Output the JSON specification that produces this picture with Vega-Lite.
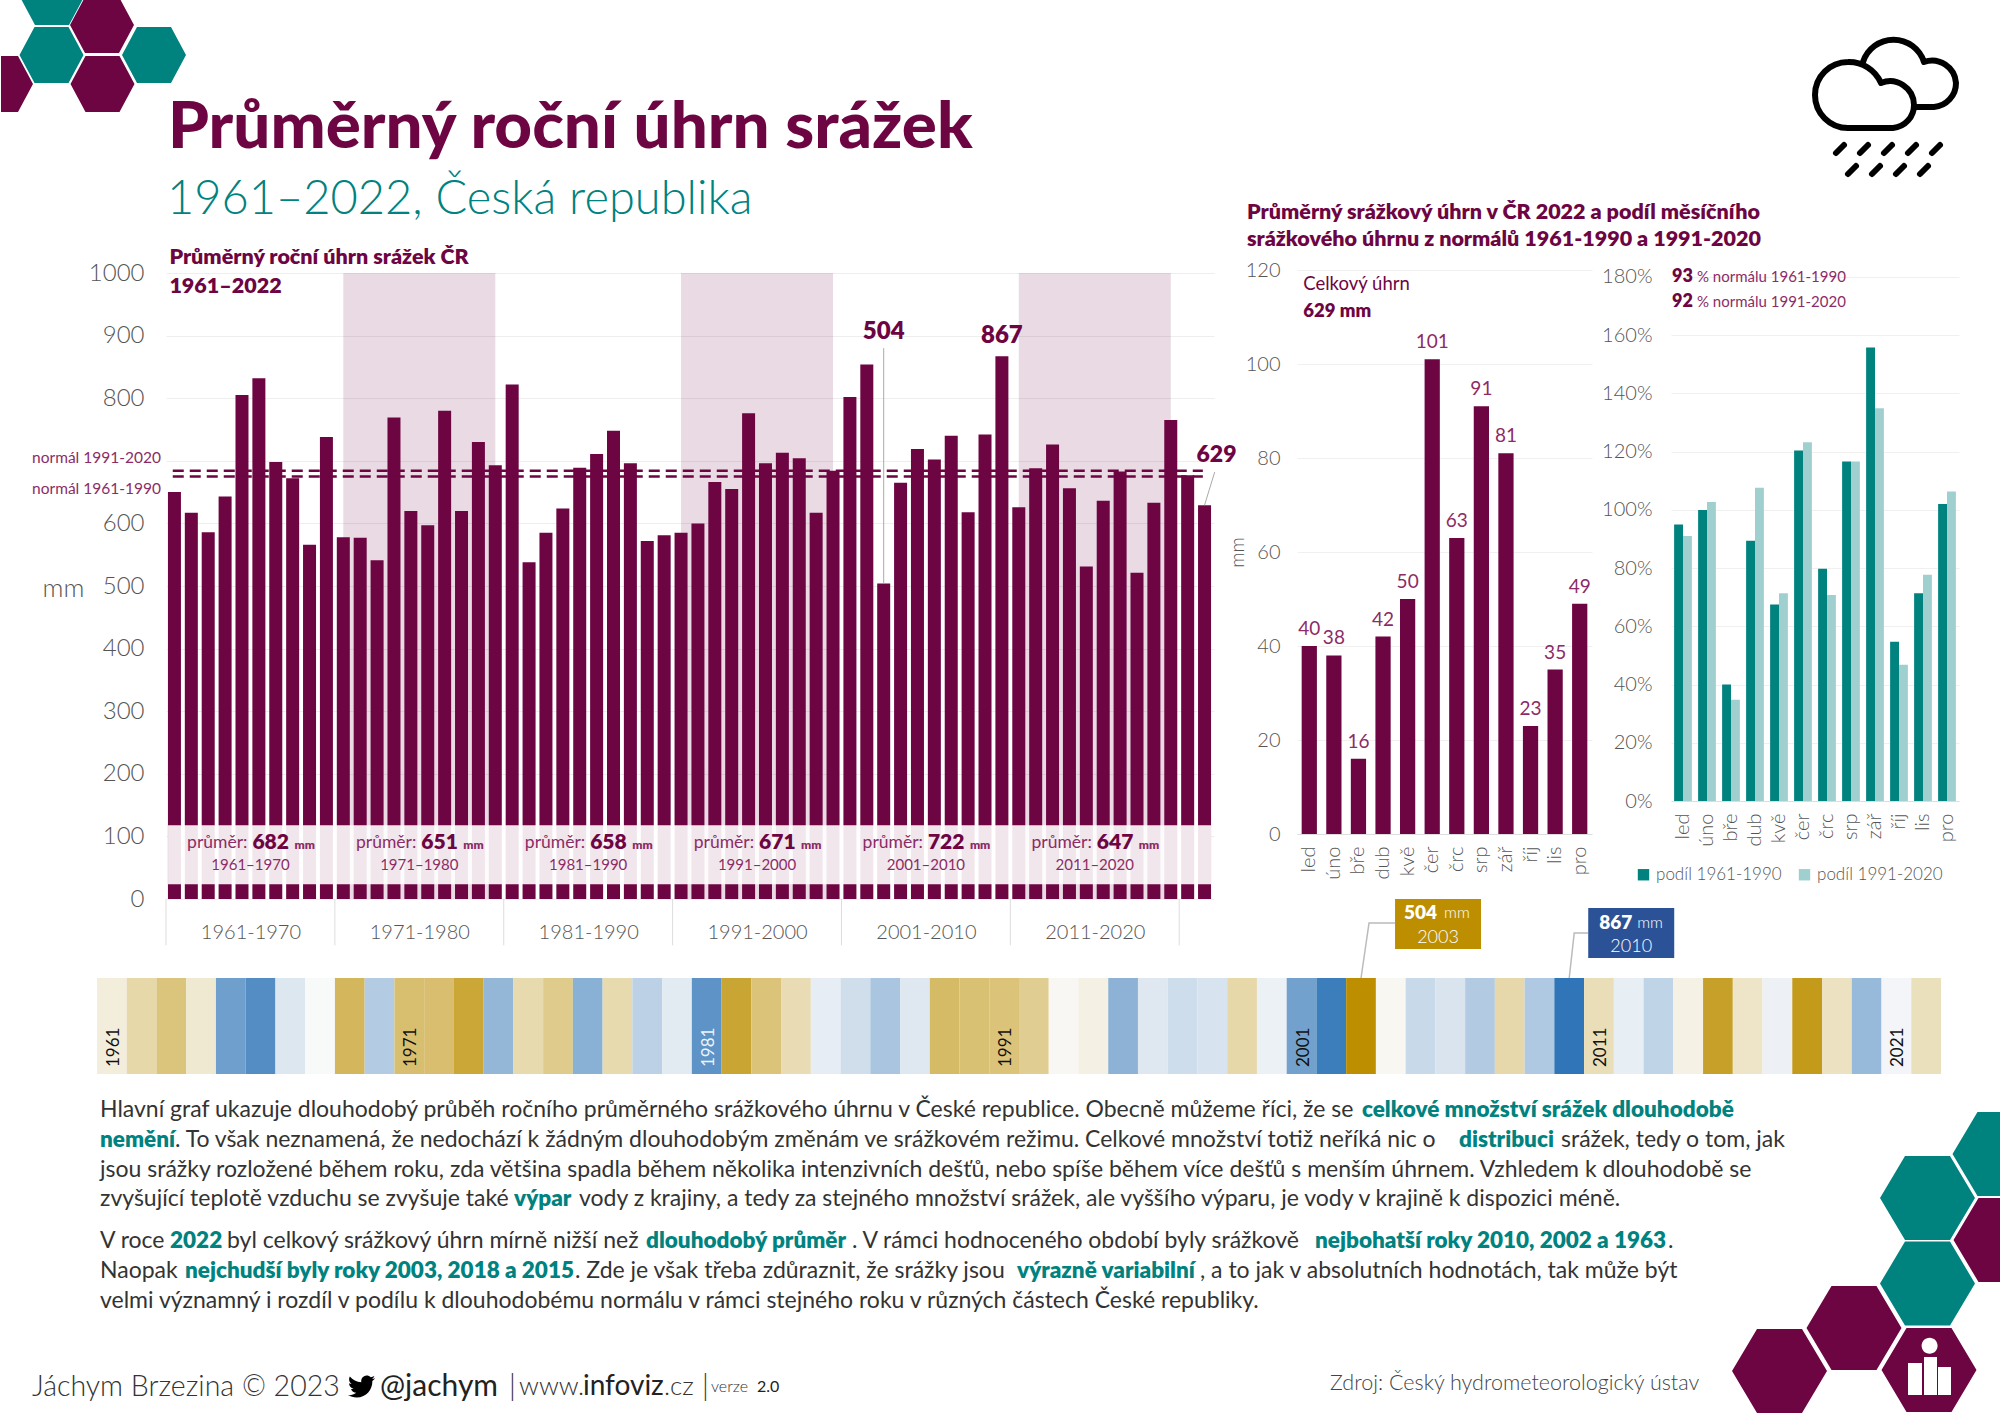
{
"$schema":"https://vega.github.io/schema/vega-lite/v6.json",
"padding":0,"background":"white","spacing":0,"bounds":"flush",
"config":{"view":{"stroke":null},"font":"Lato","concat":{"spacing":0},"text":{"font":"Lato"}},
"datasets":{
"years":[{"year":1961,"mm":650},{"year":1962,"mm":617},{"year":1963,"mm":586},{"year":1964,"mm":643},{"year":1965,"mm":805},{"year":1966,"mm":832},{"year":1967,"mm":698},{"year":1968,"mm":672},{"year":1969,"mm":566},{"year":1970,"mm":738},{"year":1971,"mm":578},{"year":1972,"mm":577},{"year":1973,"mm":541},{"year":1974,"mm":769},{"year":1975,"mm":620},{"year":1976,"mm":597},{"year":1977,"mm":780},{"year":1978,"mm":620},{"year":1979,"mm":730},{"year":1980,"mm":693},{"year":1981,"mm":822},{"year":1982,"mm":538},{"year":1983,"mm":585},{"year":1984,"mm":624},{"year":1985,"mm":689},{"year":1986,"mm":711},{"year":1987,"mm":748},{"year":1988,"mm":696},{"year":1989,"mm":572},{"year":1990,"mm":581},{"year":1991,"mm":585},{"year":1992,"mm":600},{"year":1993,"mm":666},{"year":1994,"mm":655},{"year":1995,"mm":776},{"year":1996,"mm":696},{"year":1997,"mm":713},{"year":1998,"mm":704},{"year":1999,"mm":617},{"year":2000,"mm":684},{"year":2001,"mm":802},{"year":2002,"mm":854},{"year":2003,"mm":504},{"year":2004,"mm":665},{"year":2005,"mm":719},{"year":2006,"mm":702},{"year":2007,"mm":740},{"year":2008,"mm":618},{"year":2009,"mm":742},{"year":2010,"mm":867},{"year":2011,"mm":626},{"year":2012,"mm":688},{"year":2013,"mm":726},{"year":2014,"mm":656},{"year":2015,"mm":531},{"year":2016,"mm":636},{"year":2017,"mm":683},{"year":2018,"mm":521},{"year":2019,"mm":633},{"year":2020,"mm":765},{"year":2021,"mm":677},{"year":2022,"mm":629}],
"decades":[{"mid":1965.5,"mean":682,"label":"1961–1970"},{"mid":1975.5,"mean":651,"label":"1971–1980"},{"mid":1985.5,"mean":658,"label":"1981–1990"},{"mid":1995.5,"mean":671,"label":"1991–2000"},{"mid":2005.5,"mean":722,"label":"2001–2010"},{"mid":2015.5,"mean":647,"label":"2011–2020"}],
"months":[{"m":"led","mm":40},{"m":"úno","mm":38},{"m":"bře","mm":16},{"m":"dub","mm":42},{"m":"kvě","mm":50},{"m":"čer","mm":101},{"m":"črc","mm":63},{"m":"srp","mm":91},{"m":"zář","mm":81},{"m":"říj","mm":23},{"m":"lis","mm":35},{"m":"pro","mm":49}],
"shares":[{"m":"led","s":"podíl 1961-1990","v":0.95},{"m":"led","s":"podíl 1991-2020","v":0.91},{"m":"úno","s":"podíl 1961-1990","v":1.0},{"m":"úno","s":"podíl 1991-2020","v":1.027},{"m":"bře","s":"podíl 1961-1990","v":0.4},{"m":"bře","s":"podíl 1991-2020","v":0.348},{"m":"dub","s":"podíl 1961-1990","v":0.894},{"m":"dub","s":"podíl 1991-2020","v":1.076},{"m":"kvě","s":"podíl 1961-1990","v":0.675},{"m":"kvě","s":"podíl 1991-2020","v":0.714},{"m":"čer","s":"podíl 1961-1990","v":1.204},{"m":"čer","s":"podíl 1991-2020","v":1.232},{"m":"črc","s":"podíl 1961-1990","v":0.798},{"m":"črc","s":"podíl 1991-2020","v":0.708},{"m":"srp","s":"podíl 1961-1990","v":1.166},{"m":"srp","s":"podíl 1991-2020","v":1.166},{"m":"zář","s":"podíl 1961-1990","v":1.558},{"m":"zář","s":"podíl 1991-2020","v":1.349},{"m":"říj","s":"podíl 1961-1990","v":0.547},{"m":"říj","s":"podíl 1991-2020","v":0.468},{"m":"lis","s":"podíl 1961-1990","v":0.714},{"m":"lis","s":"podíl 1991-2020","v":0.777},{"m":"pro","s":"podíl 1961-1990","v":1.02},{"m":"pro","s":"podíl 1991-2020","v":1.063}],
"prose":[
{"run":1,"line":1,"kind":"plain","t":"Hlavní graf ukazuje dlouhodobý průběh ročního průměrného srážkového úhrnu v České republice. Obecně můžeme říci, že se"},
{"run":2,"line":1,"kind":"key","t":"celkové množství srážek dlouhodobě"},
{"run":3,"line":2,"kind":"key","t":"nemění"},
{"run":4,"line":2,"kind":"plain","t":". To však neznamená, že nedochází k žádným dlouhodobým změnám ve srážkovém režimu. Celkové množství totiž neříká nic o"},
{"run":5,"line":2,"kind":"key","t":"distribuci"},
{"run":6,"line":2,"kind":"plain","t":"srážek, tedy o tom, jak"},
{"run":7,"line":3,"kind":"plain","t":"jsou srážky rozložené během roku, zda většina spadla během několika intenzivních dešťů, nebo spíše během více dešťů s menším úhrnem. Vzhledem k dlouhodobě se"},
{"run":8,"line":4,"kind":"plain","t":"zvyšující teplotě vzduchu se zvyšuje také"},
{"run":9,"line":4,"kind":"key","t":"výpar"},
{"run":10,"line":4,"kind":"plain","t":"vody z krajiny, a tedy za stejného množství srážek, ale vyššího výparu, je vody v krajině k dispozici méně."},
{"run":11,"line":5,"kind":"plain","t":"V roce"},
{"run":12,"line":5,"kind":"key","t":"2022"},
{"run":13,"line":5,"kind":"plain","t":"byl celkový srážkový úhrn mírně nižší než"},
{"run":14,"line":5,"kind":"key","t":"dlouhodobý průměr"},
{"run":15,"line":5,"kind":"plain","t":". V rámci hodnoceného období byly srážkově"},
{"run":16,"line":5,"kind":"key","t":"nejbohatší roky 2010, 2002 a 1963"},
{"run":17,"line":5,"kind":"plain","t":"."},
{"run":18,"line":6,"kind":"plain","t":"Naopak"},
{"run":19,"line":6,"kind":"key","t":"nejchudší byly roky 2003, 2018 a 2015"},
{"run":20,"line":6,"kind":"plain","t":". Zde je však třeba zdůraznit, že srážky jsou"},
{"run":21,"line":6,"kind":"key","t":"výrazně variabilní"},
{"run":22,"line":6,"kind":"plain","t":", a to jak v absolutních hodnotách, tak může být"},
{"run":23,"line":7,"kind":"plain","t":"velmi významný i rozdíl v podílu k dlouhodobému normálu v rámci stejného roku v různých částech České republiky."},
{"run":24,"line":8,"kind":"credit","t":"Jáchym Brzezina © 2023"},
{"run":25,"line":8,"kind":"handle","t":"@jachym"},
{"run":26,"line":8,"kind":"credit","t":"|"},
{"run":27,"line":8,"kind":"site","t":"www."},
{"run":28,"line":8,"kind":"siteName","t":"infoviz"},
{"run":29,"line":8,"kind":"site","t":".cz"},
{"run":30,"line":8,"kind":"credit","t":"|"},
{"run":31,"line":8,"kind":"small","t":"verze"},
{"run":32,"line":8,"kind":"smallStrong","t":"2.0"},
{"run":33,"line":9,"kind":"source","t":"Zdroj: Český hydrometeorologický ústav"}
]
},
"vconcat":[
{"width":2000,"height":270,"data":{"values":[{}]},
 "encoding":{"x":{"datum":0,"type":"quantitative","scale":{"domain":[0,2000],"range":[0,2000]},"axis":null},"y":{"datum":0,"type":"quantitative","scale":{"domain":[0,270],"range":[0,270]},"axis":null}},
 "layer":[
 {"mark":{"type":"point","clip":true,"filled":true,"opacity":1,"size":4,"color":"#00827f","strokeWidth":0,"shape":"M19 -3L34 -31L68 -31L83 -3L68 25L34 25ZM18.5 55L33.5 27L67.5 27L82.5 55L67.5 83L33.5 83ZM121 55L136 27L170 27L185 55L170 83L136 83Z"}},
 {"mark":{"type":"point","clip":true,"filled":true,"opacity":1,"size":4,"color":"#6e0543","strokeWidth":0,"shape":"M69 25L84 -3L118 -3L133 25L118 53L84 53ZM69.5 84L84.5 56L118.5 56L133.5 84L118.5 112L84.5 112ZM-32 84L-17 56L17 56L32 84L17 112L-17 112Z"}},
 {"mark":{"type":"point","filled":false,"opacity":1,"size":4,"stroke":"#000000","strokeWidth":6,"strokeCap":"round","strokeJoin":"round","shape":"M1847 128A33 33 0 0 1 1847 62A35 35 0 0 1 1880 83A24 24 0 0 1 1913 105A23 23 0 0 1 1892 128ZM1862 62A32 32 0 0 1 1923 62A24 24 0 0 1 1955 83A24 24 0 0 1 1933 107L1915 107M1835 153L1843 145M1859 153L1867 145M1883 153L1891 145M1907 153L1915 145M1931 153L1939 145M1847 174L1855 166M1871 174L1879 166M1895 174L1903 166M1919 174L1927 166"}},
 {"mark":{"type":"text","align":"left","baseline":"middle","fontSize":65.5,"fontWeight":900,"color":"#6e0543"},"encoding":{"x":{"datum":167,"type":"quantitative"},"y":{"datum":128,"type":"quantitative"},"text":{"value":"Průměrný roční úhrn srážek"}}},
 {"mark":{"type":"text","align":"left","baseline":"middle","fontSize":47,"fontWeight":300,"color":"#00827f"},"encoding":{"x":{"datum":166,"type":"quantitative"},"y":{"datum":200,"type":"quantitative"},"text":{"value":"1961–2022, Česká republika"}}}
 ]},
{"hconcat":[
 {"width":165,"height":629,"data":{"values":[{}]},"mark":{"type":"rule","opacity":0},"encoding":{}},
 {"width":1048,"height":629,"data":{"name":"years"},
  "layer":[
  {"data":{"values":[{"from":1971,"to":1980},{"from":1991,"to":2000},{"from":2011,"to":2020}]},
   "mark":{"type":"rect","color":"#6e0543","opacity":0.15},
   "encoding":{
    "x":{"field":"from","type":"quantitative","scale":{"domain":[1960.5,2022.56],"nice":false,"zero":false,"padding":0},
      "axis":{"title":null,"values":[1965.5,1975.5,1985.5,1995.5,2005.5,2015.5],"labelExpr":"format(datum.value-4.5,'d')+'-'+format(datum.value+4.5,'d')","tickSize":0,"domain":false,"grid":false,"labelPadding":23,"labelFontSize":20,"labelFontWeight":300,"labelColor":"#555555","labelOverlap":false,"labelFlush":false}},
    "x2":{"field":"to"},
    "y":{"datum":0,"type":"quantitative","scale":{"domain":[0,1004.8],"nice":false},
      "axis":{"title":"mm","titleAngle":0,"titleX":-103,"titleY":331,"titleFontSize":26,"titleFontWeight":300,"titleColor":"#555555","titleAlign":"center","values":[0,100,200,300,400,500,600,700,800,900,1000],"labelExpr":"datum.value==700?'':datum.label","format":"d","labelFontSize":24,"labelFontWeight":300,"labelColor":"#555555","labelPadding":22,"tickSize":0,"domain":false,"grid":true,"gridColor":"#eeeeee"}},
    "y2":{"datum":1000}}},
  {"mark":{"type":"bar","orient":"vertical","width":13,"color":"#6e0543"},"encoding":{"x":{"field":"year","type":"quantitative"},"y":{"field":"mm","type":"quantitative","stack":null}}},
  {"data":{"values":[{}]},"mark":{"type":"rect","color":"#ffffff","opacity":0.9},"encoding":{"x":{"datum":1960.62,"type":"quantitative"},"x2":{"datum":2022.4},"y":{"datum":23.4,"type":"quantitative"},"y2":{"datum":118}}},
  {"data":{"values":[{"b":1960.5},{"b":1970.5},{"b":1980.5},{"b":1990.5},{"b":2000.5},{"b":2010.5},{"b":2020.5}]},"mark":{"type":"rule","color":"#dddddd"},"encoding":{"x":{"field":"b","type":"quantitative"},"y":{"datum":0,"type":"quantitative"},"y2":{"datum":-74}}},
  {"data":{"values":[{"n":684},{"n":675}]},"mark":{"type":"rule","color":"#6e0543","strokeWidth":2.5,"strokeDash":[11,6]},"encoding":{"x":{"datum":1960.9,"type":"quantitative"},"x2":{"datum":2021.9},"y":{"field":"n","type":"quantitative"}}},
  {"data":{"values":[{}]},"mark":{"type":"text","align":"right","fontSize":15.5,"color":"#8c2c66"},"encoding":{"x":{"datum":1960.2,"type":"quantitative"},"y":{"datum":704,"type":"quantitative"},"text":{"value":"normál 1991-2020"}}},
  {"data":{"values":[{}]},"mark":{"type":"text","align":"right","fontSize":15.5,"color":"#8c2c66"},"encoding":{"x":{"datum":1960.2,"type":"quantitative"},"y":{"datum":655,"type":"quantitative"},"text":{"value":"normál 1961-1990"}}},
  {"data":{"values":[{}]},"mark":{"type":"text","align":"left","fontSize":21.5,"fontWeight":800,"color":"#6e0543"},"encoding":{"x":{"datum":1960.7,"type":"quantitative"},"y":{"datum":1024,"type":"quantitative"},"text":{"value":"Průměrný roční úhrn srážek ČR"}}},
  {"data":{"values":[{}]},"mark":{"type":"text","align":"left","fontSize":21.5,"fontWeight":800,"color":"#6e0543"},"encoding":{"x":{"datum":1960.7,"type":"quantitative"},"y":{"datum":977,"type":"quantitative"},"text":{"value":"1961–2022"}}},
  {"data":{"name":"decades"},"mark":{"type":"text","align":"right","dx":-3,"fontSize":17.5,"color":"#8c2c66"},"encoding":{"x":{"field":"mid","type":"quantitative"},"y":{"datum":89,"type":"quantitative"},"text":{"value":"průměr:"}}},
  {"data":{"name":"decades"},"mark":{"type":"text","align":"left","dx":2,"fontSize":21,"fontWeight":800,"color":"#6e0543"},"encoding":{"x":{"field":"mid","type":"quantitative"},"y":{"datum":89,"type":"quantitative"},"text":{"field":"mean"}}},
  {"data":{"name":"decades"},"mark":{"type":"text","align":"left","dx":44,"fontSize":12,"fontWeight":800,"color":"#8c2c66"},"encoding":{"x":{"field":"mid","type":"quantitative"},"y":{"datum":87,"type":"quantitative"},"text":{"value":"mm"}}},
  {"data":{"name":"decades"},"mark":{"type":"text","align":"center","fontSize":15,"color":"#8c2c66"},"encoding":{"x":{"field":"mid","type":"quantitative"},"y":{"datum":55,"type":"quantitative"},"text":{"field":"label"}}},
  {"data":{"values":[{}]},"mark":{"type":"rule","color":"#aaaaaa"},"encoding":{"x":{"datum":2003,"type":"quantitative"},"y":{"datum":880,"type":"quantitative"},"y2":{"datum":504}}},
  {"data":{"values":[{}]},"mark":{"type":"rule","color":"#aaaaaa"},"encoding":{"x":{"datum":2022.6,"type":"quantitative"},"x2":{"datum":2022},"y":{"datum":682,"type":"quantitative"},"y2":{"datum":629}}},
  {"transform":[{"filter":"datum.year==2003"}],"mark":{"type":"text","fontSize":24,"fontWeight":800,"color":"#6e0543"},"encoding":{"x":{"field":"year","type":"quantitative"},"y":{"datum":905,"type":"quantitative"},"text":{"field":"mm"}}},
  {"transform":[{"filter":"datum.year==2010"}],"mark":{"type":"text","fontSize":24,"fontWeight":800,"color":"#6e0543"},"encoding":{"x":{"field":"year","type":"quantitative"},"y":{"datum":900,"type":"quantitative"},"text":{"field":"mm"}}},
  {"transform":[{"filter":"datum.year==2022"}],"mark":{"type":"text","fontSize":23,"fontWeight":800,"color":"#6e0543"},"encoding":{"x":{"field":"year","type":"quantitative"},"y":{"datum":710,"type":"quantitative"},"text":{"field":"mm"},"xOffset":{"value":12}}}
  ]},
 {"width":83,"height":629,"data":{"values":[{}]},"mark":{"type":"rule","opacity":0},"encoding":{}},
 {"width":295,"height":564,"data":{"name":"months"},
  "title":{"text":["Průměrný srážkový úhrn v ČR 2022 a podíl měsíčního","srážkového úhrnu z normálů 1961-1990 a 1991-2020"],"anchor":"start","frame":"group","dx":-50,"offset":10,"fontSize":21.5,"fontWeight":800,"color":"#6e0543","lineHeight":27},
  "encoding":{"x":{"field":"m","type":"nominal","sort":null,"scale":{"paddingInner":0.38,"paddingOuter":0.19},"axis":{"title":null,"labelAngle":-90,"labelFontSize":20,"labelFontWeight":300,"labelColor":"#555555","labelPadding":12,"tickSize":0,"domain":true,"domainColor":"#dddddd","grid":false}}},
  "layer":[
  {"mark":{"type":"bar","color":"#6e0543"},"encoding":{"y":{"field":"mm","type":"quantitative","scale":{"domain":[0,120],"nice":false},"axis":{"title":"mm","titleFontSize":19,"titleFontWeight":300,"titleColor":"#555555","titleX":-50,"titleY":282,"values":[0,20,40,60,80,100,120],"labelFontSize":20,"labelFontWeight":300,"labelColor":"#555555","labelPadding":17,"tickSize":0,"domain":false,"grid":true,"gridColor":"#f0f0f0"}}}},
  {"mark":{"type":"text","dy":-17,"fontSize":19,"color":"#8c2c66"},"encoding":{"y":{"field":"mm","type":"quantitative"},"text":{"field":"mm"}}},
  {"data":{"values":[{}]},"mark":{"type":"text","align":"left","dx":-6,"fontSize":18.5,"color":"#6e0543"},"encoding":{"x":{"datum":"led","type":"nominal"},"y":{"datum":117,"type":"quantitative"},"text":{"value":"Celkový úhrn"}}},
  {"data":{"values":[{}]},"mark":{"type":"text","align":"left","dx":-6,"fontSize":18.5,"fontWeight":800,"color":"#6e0543"},"encoding":{"x":{"datum":"led","type":"nominal"},"y":{"datum":111.3,"type":"quantitative"},"text":{"value":"629 mm"}}}
  ]},
 {"width":79,"height":629,"data":{"values":[{}]},"mark":{"type":"rule","opacity":0},"encoding":{}},
 {"width":288,"height":531,"data":{"name":"shares"},
  "encoding":{"x":{"field":"m","type":"nominal","sort":null,"scale":{"paddingInner":0.26,"paddingOuter":0.13},"axis":{"title":null,"labelAngle":-90,"labelFontSize":20,"labelFontWeight":300,"labelColor":"#555555","labelPadding":12,"tickSize":0,"domain":true,"domainColor":"#dddddd","grid":false}}},
  "layer":[
  {"mark":{"type":"bar"},"encoding":{"xOffset":{"field":"s","type":"nominal"},"y":{"field":"v","type":"quantitative","stack":null,"scale":{"domain":[0,1.824],"nice":false},"axis":{"title":null,"values":[0,0.2,0.4,0.6,0.8,1,1.2,1.4,1.6,1.8],"format":".0%","labelFontSize":20,"labelFontWeight":300,"labelColor":"#555555","labelPadding":19,"tickSize":0,"domain":false,"grid":true,"gridColor":"#f0f0f0"}},
    "color":{"field":"s","type":"nominal","scale":{"domain":["podíl 1961-1990","podíl 1991-2020"],"range":["#00827f","#9fd0cf"]},"legend":{"orient":"none","legendX":1634,"legendY":596,"direction":"horizontal","title":null,"symbolType":"square","symbolSize":130,"labelFontSize":17,"labelFontWeight":300,"labelColor":"#555555","columnPadding":14}}}},
  {"data":{"values":[{}]},"mark":{"type":"text","align":"left","dx":-11,"fontSize":18,"fontWeight":800,"color":"#6e0543"},"encoding":{"x":{"datum":"led","type":"nominal"},"y":{"datum":1.8,"type":"quantitative"},"text":{"value":"93"}}},
  {"data":{"values":[{}]},"mark":{"type":"text","align":"left","dx":14,"fontSize":15,"color":"#8c2c66"},"encoding":{"x":{"datum":"led","type":"nominal"},"y":{"datum":1.8,"type":"quantitative"},"text":{"value":"% normálu 1961-1990"}}},
  {"data":{"values":[{}]},"mark":{"type":"text","align":"left","dx":-11,"fontSize":18,"fontWeight":800,"color":"#6e0543"},"encoding":{"x":{"datum":"led","type":"nominal"},"y":{"datum":1.714,"type":"quantitative"},"text":{"value":"92"}}},
  {"data":{"values":[{}]},"mark":{"type":"text","align":"left","dx":14,"fontSize":15,"color":"#8c2c66"},"encoding":{"x":{"datum":"led","type":"nominal"},"y":{"datum":1.714,"type":"quantitative"},"text":{"value":"% normálu 1991-2020"}}}
  ]}
 ],"spacing":0,"bounds":"flush"},
{"width":2000,"height":629,"data":{"values":[{}]},"mark":{"type":"rule","opacity":0},"encoding":{}},
{"width":2000,"height":175,"data":{"name":"years"},
 "encoding":{"x":{"field":"year","type":"ordinal","scale":{"type":"band","range":[96,1940],"paddingInner":0,"paddingOuter":0},"axis":null}},
 "layer":[
 {"mark":{"type":"rect"},"encoding":{"y":{"value":79},"y2":{"value":175},"color":{"field":"mm","type":"quantitative","scale":{"type":"linear","interpolate":"rgb","domain":[504,670,867],"range":["#bd8f00","#fafafa","#2f75b7"]},"legend":null}}},
 {"transform":[{"filter":"(datum.year-1)%10==0"}],"mark":{"type":"text","angle":270,"align":"left","baseline":"middle","fontSize":17,"xOffset":2},"encoding":{"y":{"value":168},"text":{"field":"year"},"color":{"condition":{"test":"datum.year==1981","value":"#eef3fa"},"value":"#111111"}}},
 {"transform":[{"filter":"datum.year==2003"}],"mark":{"type":"point","filled":false,"opacity":1,"size":4,"stroke":"#bbbbbb","strokeWidth":1.5,"shape":"M0 0L8 -55L34 -55"},"encoding":{"y":{"value":79}}},
 {"transform":[{"filter":"datum.year==2010"}],"mark":{"type":"point","filled":false,"opacity":1,"size":4,"stroke":"#bbbbbb","strokeWidth":1.5,"shape":"M0 0L5 -45L19 -45"},"encoding":{"y":{"value":79}}},
 {"transform":[{"filter":"datum.year==2003"}],"mark":{"type":"point","filled":true,"opacity":1,"size":4,"color":"#bd8f00","shape":"M34 -79H120V-29H34Z"},"encoding":{"y":{"value":79}}},
 {"transform":[{"filter":"datum.year==2010"}],"mark":{"type":"point","filled":true,"opacity":1,"size":4,"color":"#2b5297","shape":"M19 -70H105V-20H19Z"},"encoding":{"y":{"value":79}}},
 {"transform":[{"filter":"datum.year==2003"}],"mark":{"type":"text","align":"left","dx":43,"fontSize":19,"fontWeight":800,"color":"#ffffff"},"encoding":{"y":{"value":14},"text":{"field":"mm"}}},
 {"transform":[{"filter":"datum.year==2003"}],"mark":{"type":"text","align":"left","dx":83,"fontSize":16,"fontWeight":300,"color":"#ffffff"},"encoding":{"y":{"value":14},"text":{"value":"mm"}}},
 {"transform":[{"filter":"datum.year==2003"}],"mark":{"type":"text","align":"center","dx":77,"fontSize":18,"fontWeight":300,"color":"#ffffff"},"encoding":{"y":{"value":39},"text":{"field":"year"}}},
 {"transform":[{"filter":"datum.year==2010"}],"mark":{"type":"text","align":"left","dx":30,"fontSize":19,"fontWeight":800,"color":"#ffffff"},"encoding":{"y":{"value":24},"text":{"field":"mm"}}},
 {"transform":[{"filter":"datum.year==2010"}],"mark":{"type":"text","align":"left","dx":68,"fontSize":16,"fontWeight":300,"color":"#ffffff"},"encoding":{"y":{"value":24},"text":{"value":"mm"}}},
 {"transform":[{"filter":"datum.year==2010"}],"mark":{"type":"text","align":"center","dx":62,"fontSize":18,"fontWeight":300,"color":"#ffffff"},"encoding":{"y":{"value":48},"text":{"field":"year"}}}
 ]},
{"width":2000,"height":340,"data":{"name":"prose"},
 "encoding":{
  "x":{"field":"run","type":"quantitative","scale":{"domain":[0,1,2,3,4,5,6,7,8,9,10,11,12,13,14,15,16,17,18,19,20,21,22,23,24,25,26,27,28,29,30,31,32,33,34],"range":[0,99,1361,99,174,1458,1560,99,99,513,578,99,169,226,645,851,1314,1667,99,184,574,1016,1199,99,31,379,508,518,582,663,701,710,756,1329,347]},"axis":null},
  "y":{"field":"line","type":"quantitative","scale":{"domain":[0,1,2,3,4,5,6,7,8,9,10],"range":[0,36,66,96,125,167,197,227,313,310,299]},"axis":null}},
 "layer":[
 {"transform":[{"filter":"datum.kind=='plain'"}],"mark":{"type":"text","align":"left","baseline":"middle","fontSize":23,"fontWeight":400,"color":"#333333"},"encoding":{"text":{"field":"t"}}},
 {"transform":[{"filter":"datum.kind=='key'"}],"mark":{"type":"text","align":"left","baseline":"middle","fontSize":22.5,"fontWeight":800,"color":"#00827f"},"encoding":{"text":{"field":"t"}}},
 {"transform":[{"filter":"datum.kind=='credit'"}],"mark":{"type":"text","align":"left","baseline":"middle","fontSize":28.5,"fontWeight":300,"color":"#333333"},"encoding":{"text":{"field":"t"}}},
 {"transform":[{"filter":"datum.kind=='handle'"}],"mark":{"type":"text","align":"left","baseline":"middle","fontSize":30,"fontWeight":400,"color":"#222222"},"encoding":{"text":{"field":"t"}}},
 {"transform":[{"filter":"datum.kind=='site'"}],"mark":{"type":"text","align":"left","baseline":"middle","fontSize":26,"fontWeight":300,"color":"#333333"},"encoding":{"text":{"field":"t"}}},
 {"transform":[{"filter":"datum.kind=='siteName'"}],"mark":{"type":"text","align":"left","baseline":"middle","fontSize":28,"fontWeight":400,"color":"#222222"},"encoding":{"text":{"field":"t"}}},
 {"transform":[{"filter":"datum.kind=='small'"}],"mark":{"type":"text","align":"left","baseline":"middle","fontSize":16,"fontWeight":300,"color":"#333333"},"encoding":{"text":{"field":"t"}}},
 {"transform":[{"filter":"datum.kind=='smallStrong'"}],"mark":{"type":"text","align":"left","baseline":"middle","fontSize":16,"fontWeight":400,"color":"#222222"},"encoding":{"text":{"field":"t"}}},
 {"transform":[{"filter":"datum.kind=='source'"}],"mark":{"type":"text","align":"left","baseline":"middle","fontSize":21.5,"fontWeight":300,"color":"#444444"},"encoding":{"text":{"field":"t"}}},
 {"data":{"values":[{"run":0,"line":0}]},"mark":{"type":"point","clip":true,"filled":true,"opacity":1,"size":4,"color":"#00827f","strokeWidth":0,"shape":"M1879 124L1904 82L1949 82L1974 124L1949 166L1904 166ZM1951.5 80L1976.5 38L2021.5 38L2046.5 80L2021.5 122L1976.5 122ZM1879 209.5L1904 167.5L1949 167.5L1974 209.5L1949 251.5L1904 251.5Z"}},
 {"data":{"values":[{"run":0,"line":0}]},"mark":{"type":"point","clip":true,"filled":true,"opacity":1,"size":4,"color":"#6e0543","strokeWidth":0,"shape":"M1952.5 166L1977.5 124L2022.5 124L2047.5 166L2022.5 208L1977.5 208ZM1805.5 254L1830.5 212L1875.5 212L1900.5 254L1875.5 296L1830.5 296ZM1731 297L1756 255L1801 255L1826 297L1801 339L1756 339ZM1880.5 296L1905.5 254L1950.5 254L1975.5 296L1950.5 338L1905.5 338Z"}},
 {"data":{"values":[{"run":0,"line":0}]},"mark":{"type":"point","filled":true,"opacity":1,"size":4,"color":"#ffffff","strokeWidth":0,"shape":"M1920.6 271.7A8 8 0 1 1 1936.6 271.7A8 8 0 1 1 1920.6 271.7ZM1907 289H1921V321H1907ZM1923 283H1936V321H1923ZM1937 293H1950V321H1937Z"}},
 {"data":{"values":[{"run":34,"line":10}]},"mark":{"type":"point","filled":true,"opacity":1,"size":5.1,"color":"#000000","strokeWidth":0,"shape":"M23.953 4.57a10 10 0 0 1 -2.825 .775a4.958 4.958 0 0 0 2.163 -2.723c-.951 .555 -2.005 .959 -3.127 1.184a4.92 4.92 0 0 0 -8.384 4.482C7.69 8.095 4.067 6.13 1.64 3.162a4.822 4.822 0 0 0 -.666 2.475c0 1.71 .87 3.213 2.188 4.096a4.904 4.904 0 0 1 -2.228 -.616v.06a4.923 4.923 0 0 0 3.946 4.827a4.996 4.996 0 0 1 -2.212 .085a4.936 4.936 0 0 0 4.604 3.417a9.867 9.867 0 0 1 -6.102 2.105c-.39 0 -.779 -.023 -1.17 -.067a13.995 13.995 0 0 0 7.557 2.209c9.053 0 13.998 -7.496 13.998 -13.985c0 -.21 0 -.42 -.015 -.63A9.935 9.935 0 0 0 24 4.59z"}}
 ]}
]}
